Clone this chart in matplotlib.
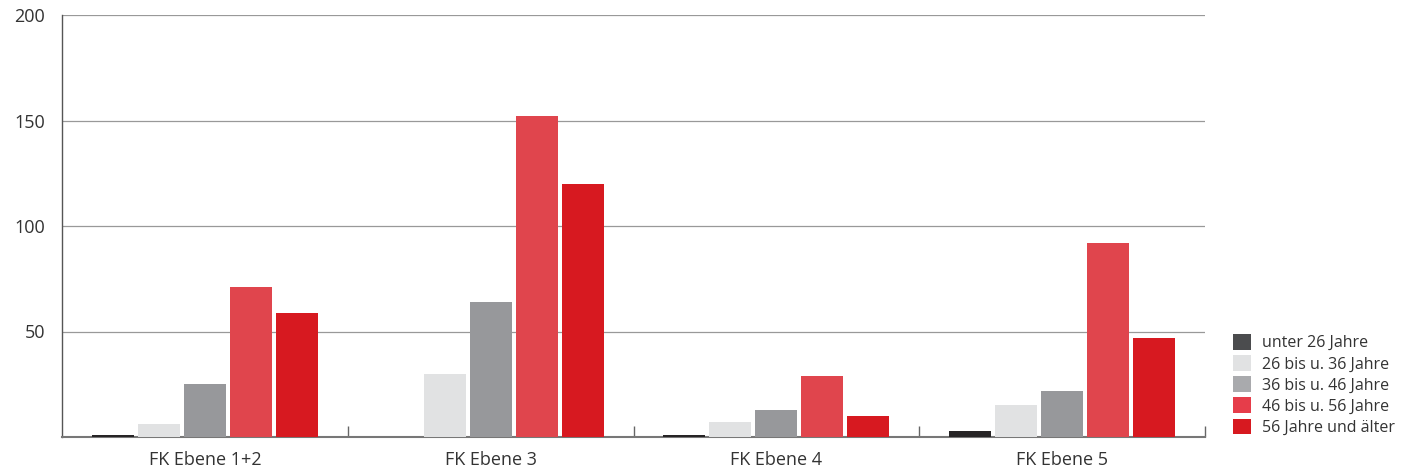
import numpy as np
import matplotlib.pyplot as plt
from matplotlib.patches import Patch

plt.rcParams['font.family'] = ['Open Sans', 'DejaVu Sans']

groups = ['FK Ebene 1+2', 'FK Ebene 3', 'FK Ebene 4', 'FK Ebene 5']
age_bands = ['unter 26 Jahre', '26 bis u. 36 Jahre', '36 bis u. 46 Jahre',
             '46 bis u. 56 Jahre', '56 Jahre und älter']

under_26 = [1, 0, 1, 3]
age_26_36 = [6, 30, 7, 15]
age_36_46 = [25, 64, 13, 22]
age_46_56 = [71, 152, 29, 92]
age_56_up = [59, 120, 10, 47]

series = [under_26, age_26_36, age_36_46, age_46_56, age_56_up]
bar_colors = ['#262425', '#e1e2e3', '#97989b', '#e0454d', '#d71920']
legend_colors = ['#4b4c4e', '#e1e2e3', '#a9aaad', '#e63d4a', '#d71920']

fig = plt.figure(figsize=(14.09, 4.74), dpi=100)
ax = fig.add_axes([62 / 1409, 37 / 474, 1143 / 1409, 422 / 474])

x = np.arange(len(groups))
slot = 0.161
width = 0.147
for i, vals in enumerate(series):
    ax.bar(x + (i - 2) * slot, vals, width, color=bar_colors[i], zorder=3)

ax.set_xlim(-0.5, len(groups) - 0.5)
ax.set_ylim(0, 200)
ax.set_yticks([50, 100, 150, 200])
ax.yaxis.grid(True, color='#999999', linewidth=0.9, zorder=0)
ax.tick_params(axis='y', length=0, pad=12, labelsize=13, labelcolor='#333333')

ax.set_xticks(x)
ax.set_xticklabels(groups)
ax.tick_params(axis='x', which='major', length=0, pad=10, labelsize=13,
               labelcolor='#333333')
ax.set_xticks(np.arange(len(groups)) + 0.5, minor=True)
ax.tick_params(axis='x', which='minor', direction='in', length=8,
               width=1, color='#666666')

for side in ['top', 'right']:
    ax.spines[side].set_visible(False)
ax.spines['left'].set_color('#555555')
ax.spines['left'].set_linewidth(1.0)
ax.spines['bottom'].set_color('#777777')
ax.spines['bottom'].set_linewidth(1.5)

handles = [Patch(facecolor=c, edgecolor='none') for c in legend_colors]
fig.legend(handles, age_bands, loc='lower left',
           bbox_to_anchor=(1219 / 1409, 24 / 474), frameon=False,
           fontsize=11.5, handlelength=1.1, handleheight=1.1,
           handletextpad=0.7, labelspacing=0.25, labelcolor='#333333')

fig.savefig('out.png', dpi=100)
